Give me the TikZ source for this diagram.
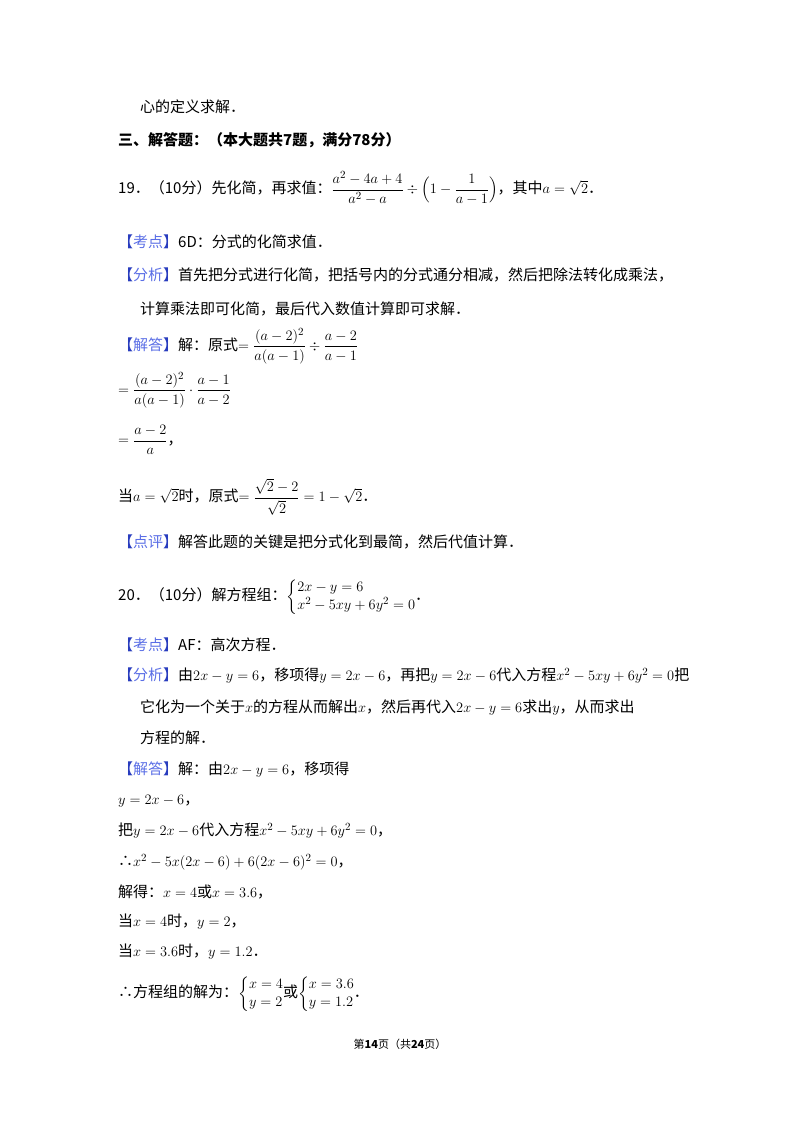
\documentclass[tikz,border=0pt]{standalone}
\usepackage{amsmath}
\usepackage{fontspec}
\setmainfont{Noto Sans CJK SC}
\usetikzlibrary{positioning}
\definecolor{tagcolor}{RGB}{40, 60, 190}
\definecolor{tagtext}{RGB}{90, 110, 230}
\newcommand{\tagbox}[1]{\textcolor{tagcolor}{【}\textcolor{tagtext}{#1}\textcolor{tagcolor}{】}}
\newcommand{\eqsys}[1]{\left\{\begin{array}{@{}l@{}}#1\end{array}\right.\kern-\nulldelimiterspace}
\begin{document}
\begin{tikzpicture}[x=1pt,y=-1pt,
  line/.style={anchor=west,inner sep=0pt,font=\fontsize{15}{18}\selectfont},
  foot/.style={inner sep=0pt,font=\fontsize{11}{13}\selectfont}]
\useasboundingbox[fill=white] (0,0) rectangle (800,1132);
% question 19
\node[line] (l1) at (140,107) {心的定义求解．};
\node[line] (l2) at (118,140) {\bfseries 三、解答题：（本大题共7题，满分78分）};
\node[line] (l3) at (118,188) {19．（10分）先化简，再求值：$\dfrac{a^2-4a+4}{a^2-a}\div\Bigl(1-\dfrac{1}{a-1}\Bigr)$，其中$a=\sqrt{2}$．};
\node[line] (l4) at (118,242) {\tagbox{考点}6D：分式的化简求值．};
\node[line] (l5) at (118,275) {\tagbox{分析}首先把分式进行化简，把括号内的分式通分相减，然后把除法转化成乘法，};
\node[line] (l6) at (140,309) {计算乘法即可化简，最后代入数值计算即可求解．};
\node[line] (l7) at (118,346) {\tagbox{解答}解：原式$=\dfrac{(a-2)^2}{a(a-1)}\div\dfrac{a-2}{a-1}$};
\node[line] (l8) at (118,390) {$=\dfrac{(a-2)^2}{a(a-1)}\cdot\dfrac{a-1}{a-2}$};
\node[line] (l9) at (118,440) {$=\dfrac{a-2}{a}$，};
\node[line] (l10) at (118,497) {当$a=\sqrt{2}$时，原式$=\dfrac{\sqrt{2}-2}{\sqrt{2}}=1-\sqrt{2}$．};
\node[line] (l11) at (118,542) {\tagbox{点评}解答此题的关键是把分式化到最简，然后代值计算．};
% question 20
\node[line] (l12) at (118,597) {20．（10分）解方程组：$\eqsys{2x-y=6\\ x^2-5xy+6y^2=0}$．};
\node[line] (l13) at (118,645) {\tagbox{考点}AF：高次方程．};
\node[line] (l14) at (118,676) {\tagbox{分析}由$2x-y=6$，移项得$y=2x-6$，再把$y=2x-6$代入方程$x^2-5xy+6y^2=0$把};
\node[line] (l15) at (140,708) {它化为一个关于$x$的方程从而解出$x$，然后再代入$2x-y=6$求出$y$，从而求出};
\node[line] (l16) at (140,738) {方程的解．};
\node[line] (l17) at (118,770) {\tagbox{解答}解：由$2x-y=6$，移项得};
\node[line] (l18) at (118,801) {$y=2x-6$，};
\node[line] (l19) at (118,831) {把$y=2x-6$代入方程$x^2-5xy+6y^2=0$，};
\node[line] (l20) at (118,862) {∴$x^2-5x(2x-6)+6(2x-6)^2=0$，};
\node[line] (l21) at (118,892) {解得：$x=4$或$x=3.6$，};
\node[line] (l22) at (118,922) {当$x=4$时，$y=2$，};
\node[line] (l23) at (118,952) {当$x=3.6$时，$y=1.2$．};
\node[line] (l24) at (118,994) {∴方程组的解为：$\eqsys{x=4\\ y=2}$或$\eqsys{x=3.6\\ y=1.2}$．};
% footer
\node[foot] (pg) at (400,1044) {第\textbf{14}页（共\textbf{24}页）};
\end{tikzpicture}
\end{document}
